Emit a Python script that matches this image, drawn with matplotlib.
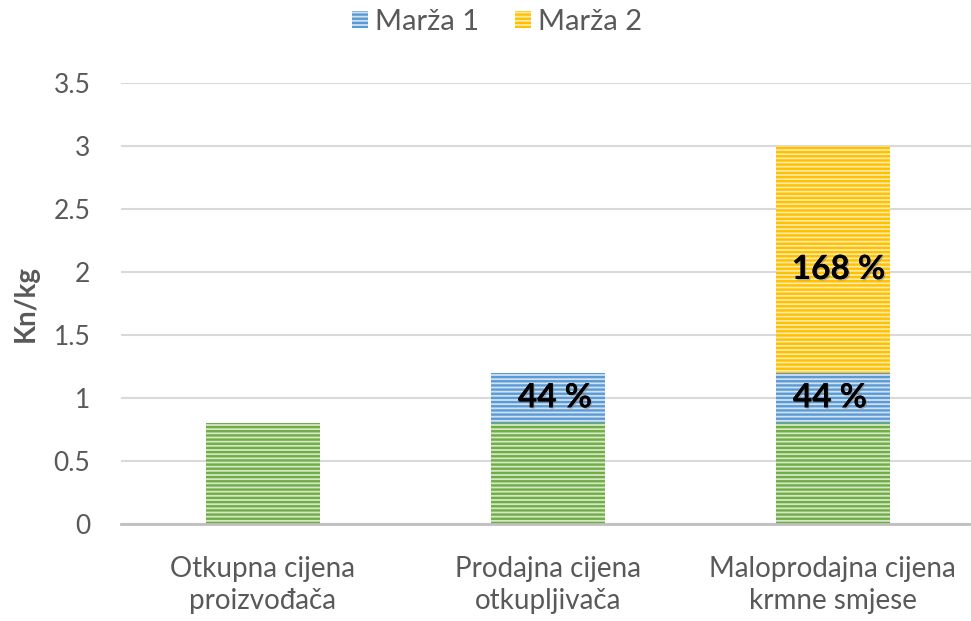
import matplotlib
matplotlib.use('Agg')
import matplotlib.pyplot as plt
import matplotlib.patheffects as pe
import numpy as np

categories = ['Otkupna cijena\nproizvođača', 'Prodajna cijena\notkupljivača', 'Maloprodajna cijena\nkrmne smjese']
base = [0.8, 0.8, 0.8]
marza1 = [0, 0.4, 0.4]
marza2 = [0, 0, 1.8]
labels1 = ['', '44 %', '44 %']
labels2 = ['', '', '168 %']

plt.rcParams['font.family'] = ['Lato', 'DejaVu Sans']
plt.rcParams['hatch.linewidth'] = 1.7

grey = '#595959'
fig = plt.figure(figsize=(9.71, 6.21), dpi=100)
ax = fig.add_axes([121/971, 97.4/621, 850/971, 440.3/621])

x = np.arange(len(categories))
w = 0.4
ax.bar(x, base, w, color='#d4e8c6', edgecolor='#70ad47', hatch='----', linewidth=0, zorder=2)
b1 = ax.bar(x, marza1, w, bottom=base, color='#cfe1f3', edgecolor='#5b9bd5', hatch='----',
            linewidth=0, zorder=2, label='Marža 1')
bot2 = [b + m for b, m in zip(base, marza1)]
b2 = ax.bar(x, marza2, w, bottom=bot2, color='#ffeaa6', edgecolor='#ffc000', hatch='----',
            linewidth=0, zorder=2, label='Marža 2')

shadow = [pe.withSimplePatchShadow(offset=(1, -1), shadow_rgbFace='#808080', alpha=0.5), pe.Normal()]
# small horizontal nudges, the original labels are not exactly centred
dx1 = [0, 0.025, -0.01]
for i in range(len(categories)):
    if labels1[i]:
        ax.text(x[i] + dx1[i], base[i] + marza1[i] / 2, labels1[i], ha='center', va='center',
                fontsize=24, fontweight='bold', color='black', zorder=4, path_effects=shadow)
    if labels2[i]:
        # label sits a bit lower than the segment centre in the original
        ax.text(x[i] + 0.02, bot2[i] + marza2[i] / 2 - 0.08, labels2[i], ha='center', va='center',
                fontsize=24, fontweight='bold', color='black', zorder=4, path_effects=shadow)

ax.set_ylim(0, 3.5)
ax.set_xlim(-0.498, 2.485)
ax.set_yticks(np.arange(0, 3.51, 0.5))
ax.set_yticklabels(['0', '0.5', '1', '1.5', '2', '2.5', '3', '3.5'])
ax.set_xticks(x)
ax.set_xticklabels(categories)
ax.tick_params(axis='both', length=0, labelsize=20, colors=grey)
ax.tick_params(axis='y', labelsize=19, pad=22)
ax.tick_params(axis='x', pad=23)
for lab in ax.get_xticklabels():
    lab.set_linespacing(1.3)
ax.grid(axis='y', color='#d9d9d9', linewidth=1.5, zorder=0)
for s in ['top', 'right', 'left']:
    ax.spines[s].set_visible(False)
ax.spines['bottom'].set_color('#bfbfbf')
ax.spines['bottom'].set_linewidth(2)
ax.spines['bottom'].set_zorder(3)

ax.set_ylabel('Kn/kg', fontsize=20, fontweight='bold', color=grey)
ax.yaxis.set_label_coords(-82/850, 0.5)

fig.legend(handles=[b1, b2], loc='center', bbox_to_anchor=(497/971, 1 - 22/621), ncol=2,
           frameon=False, fontsize=21, labelcolor=grey, handlelength=0.55, handleheight=0.55,
           handletextpad=0.25, columnspacing=1.2)

plt.savefig('out.png', dpi=100)
